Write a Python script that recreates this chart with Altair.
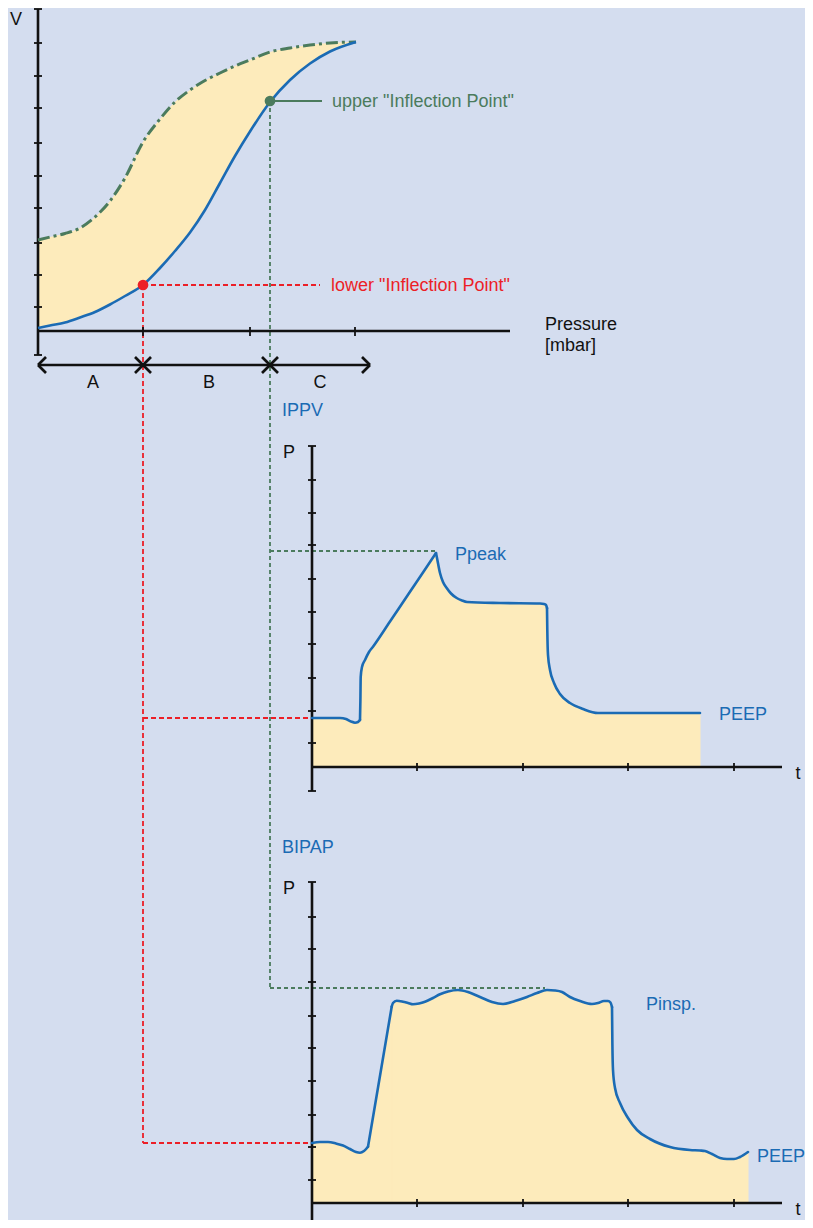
import altair as alt
import pandas as pd

BG = "#d4ddef"
FILL = "#fdebbb"
BLUE = "#1b6bb4"
GREEN = "#4b7b5d"
RED = "#ec1f27"
BLACK = "#111111"
FONT = "Liberation Sans"
FS = 18

# ---------------- data (diagram units, y grows downward) ----------------
# top panel: pressure-volume loop
pv_x = [38, 50, 65, 80, 95, 110, 125, 143, 160, 175, 190, 205, 220, 235, 250, 270, 290, 310, 330, 356]
pv_lower = [328, 325.5, 322.5, 317.5, 312, 304.5, 296, 285, 268, 251, 232.5, 210, 183, 156, 131.5, 102, 80, 63.5, 51.5, 42]
pv_upper = [240, 237, 233.5, 228, 217, 201, 178, 142, 119, 102, 90, 80.5, 73, 66, 60, 52, 48, 45, 43, 42]
pv_vticks = [43, 76, 108, 143, 176, 208, 243, 275, 307]
pv_hticks = [143, 250, 355]
inflection_x = [143, 270]
inflection_y = [285, 101]

# IPPV pressure curve (pieces split at sharp corners)
ippv_t = [312, 325, 340, 346, 351, 355, 358, 360,
          360, 360.4, 360.7, 362, 365, 369, 373, 390, 410, 425, 436,
          436, 437, 440, 443, 446.7, 451, 456.7, 462, 467, 500, 540, 544, 546, 547,
          547, 547.3, 548, 550, 554, 560, 570, 583, 598, 620, 700]
ippv_p = [718, 718, 718, 719, 721.5, 722.7, 722, 720,
          720, 700, 677, 667, 660, 652, 646.7, 621.5, 591.8, 569.6, 553,
          553, 558, 573, 582, 588, 593.5, 598, 600.5, 602, 603, 603.5, 604, 605, 608,
          608, 630, 655, 670, 683, 694, 703, 709, 713, 713, 713]
ippv_piece = [0] * 8 + [1] * 11 + [2] * 14 + [3] * 11
ippv_pticks = [480, 513, 545, 579, 612, 644, 678, 711, 743]

# BIPAP pressure curve (pieces split at sharp corners)
bipap_t = [312, 320, 328, 336, 343, 350, 356, 360, 364, 368,
           368, 391.7,
           391.7, 393, 396.7, 403, 408, 413, 419, 425, 433, 440, 448, 458, 468, 480, 492, 503, 515,
           527, 537, 547, 555, 562, 570, 580, 592, 598, 604, 608, 610.5, 612,
           612, 612.4, 613, 615, 620, 628, 637, 650, 670, 690, 700, 705, 712, 720, 727, 734, 740, 748]
bipap_p = [1143, 1142, 1142, 1143.5, 1145.5, 1149, 1152, 1152.7, 1151, 1146.7,
           1146.7, 1006.7,
           1006.7, 1003, 1000.7, 1001.7, 1003, 1004.3, 1003.5, 1001.7, 998, 994.3, 991.5, 990, 992,
           997, 1002, 1004, 1001, 997, 993, 990, 990.5, 992, 997, 1001, 1004, 1003, 1001, 1001,
           1002.5, 1007,
           1007, 1045, 1070, 1088, 1103, 1118, 1130, 1139, 1147, 1150, 1150.5, 1151, 1154, 1158,
           1159, 1159, 1157, 1152]
bipap_piece = [0] * 10 + [1] * 2 + [2] * 30 + [3] * 18
bipap_pticks = [917, 949, 982, 1016, 1048, 1081, 1115, 1147, 1180]
t_ticks = [417, 523, 628, 734]

# ---------------- scales ----------------
XS = alt.Scale(domain=[8, 805], nice=False, zero=False, padding=0)
YS = alt.Scale(domain=[8, 1220], nice=False, zero=False, reverse=True, padding=0)


def X(f="x"):
    return alt.X(f"{f}:Q", scale=XS, axis=None)


def Y(f="y"):
    return alt.Y(f"{f}:Q", scale=YS, axis=None)


def segs(rows):
    return pd.DataFrame(rows, columns=["x", "y", "x2", "y2"])


def rules(df, color, width, dash=None):
    kw = dict(color=color, strokeWidth=width, strokeCap="butt")
    if dash:
        kw["strokeDash"] = dash
    return alt.Chart(df).mark_rule(**kw).encode(
        x=X(), y=Y(), x2=alt.X2("x2:Q"), y2=alt.Y2("y2:Q"))


# ---------------- fills ----------------
pv_df = pd.DataFrame({"x": pv_x, "lo": pv_lower, "up": pv_upper})
pv_fill = alt.Chart(pv_df).mark_area(color=FILL, interpolate="monotone").encode(
    x=X(), y=Y("up"), y2=alt.Y2("lo:Q"))

ippv_df = pd.DataFrame({"x": ippv_t, "y": ippv_p, "piece": ippv_piece, "base": [767] * len(ippv_t)})
ippv_fill = alt.Chart(ippv_df).mark_area(color=FILL, stroke=FILL, strokeWidth=1,
                                         interpolate="monotone").encode(
    x=X(), y=Y(), y2=alt.Y2("base:Q"), detail="piece:N")

bipap_df = pd.DataFrame({"x": bipap_t, "y": bipap_p, "piece": bipap_piece, "base": [1203] * len(bipap_t)})
bipap_fill = alt.Chart(bipap_df).mark_area(color=FILL, stroke=FILL, strokeWidth=1,
                                           interpolate="monotone").encode(
    x=X(), y=Y(), y2=alt.Y2("base:Q"), detail="piece:N")

# ---------------- guide lines ----------------
lx, ux = inflection_x
ly, uy = inflection_y
red_lines = segs([
    (lx, ly, 320, ly),
    (lx, ly, lx, bipap_p[0]),
    (lx, ippv_p[0], 312, ippv_p[0]),
    (lx, bipap_p[0], 312, bipap_p[0]),
])
green_lines = segs([
    (ux, uy, ux, min(bipap_p) - 2),
    (ux, min(ippv_p) - 2, 435, min(ippv_p) - 2),
    (ux, min(bipap_p) - 2, 545, min(bipap_p) - 2),
])
green_solid = segs([(ux, uy, 322, uy)])

# ---------------- axes ----------------
axis_rows = [
    (38, 9, 38, 355), (38, 331, 510, 331),
    (38, 365, 370, 365),
    (38, 365, 46, 357), (38, 365, 46, 373), (370, 365, 362, 357), (370, 365, 362, 373),
    (312, 446, 312, 791), (312, 767, 782, 767),
    (312, 882, 312, 1227), (312, 1203, 782, 1203),
]
for cx in inflection_x:
    axis_rows += [(cx - 8, 357, cx + 8, 373), (cx - 8, 373, cx + 8, 357)]
axis_df = segs(axis_rows)

tick_rows = [(34, 9, 42, 9), (34, 355, 42, 355),
             (308, 446, 316, 446), (308, 791, 316, 791),
             (308, 882, 316, 882), (308, 1227, 316, 1227)]
tick_rows += [(34, v, 42, v) for v in pv_vticks]
tick_rows += [(h, 327, h, 336) for h in pv_hticks]
tick_rows += [(308, v, 316, v) for v in ippv_pticks + bipap_pticks]
tick_rows += [(t, 763, t, 771) for t in t_ticks]
tick_rows += [(t, 1199, t, 1207) for t in t_ticks]
tick_df = segs(tick_rows)

# ---------------- curves ----------------
pv_lower_line = alt.Chart(pv_df).mark_line(color=BLUE, strokeWidth=2.6, interpolate="monotone").encode(
    x=X(), y=Y("lo"))
pv_upper_line = alt.Chart(pv_df).mark_line(color=GREEN, strokeWidth=3, interpolate="monotone",
                                           strokeDash=[12, 4, 3, 4]).encode(x=X(), y=Y("up"))
ippv_line = alt.Chart(ippv_df).mark_line(color=BLUE, strokeWidth=2.6, interpolate="monotone",
                                         strokeJoin="round", strokeCap="round").encode(
    x=X(), y=Y(), detail="piece:N")
bipap_line = alt.Chart(bipap_df).mark_line(color=BLUE, strokeWidth=2.6, interpolate="monotone",
                                           strokeJoin="round", strokeCap="round").encode(
    x=X(), y=Y(), detail="piece:N")

pts_df = pd.DataFrame({"x": inflection_x, "y": inflection_y, "c": [RED, GREEN]})
pts = alt.Chart(pts_df).mark_circle(size=115, opacity=1).encode(
    x=X(), y=Y(), color=alt.Color("c:N", scale=None))

# ---------------- text ----------------
left_text = pd.DataFrame([
    ("upper \"Inflection Point\"", 332, 102, GREEN),
    ("lower \"Inflection Point\"", 331, 286, RED),
    ("Pressure", 545, 325, BLACK),
    ("[mbar]", 545, 346, BLACK),
    ("IPPV", 282, 411, BLUE),
    ("Ppeak", 455, 555, BLUE),
    ("PEEP", 719, 715, BLUE),
    ("BIPAP", 282, 848, BLUE),
    ("Pinsp.", 646, 1005, BLUE),
    ("PEEP", 757, 1157, BLUE),
], columns=["t", "x", "y", "c"])
center_text = pd.DataFrame([
    ("V", 16, 20, BLACK),
    ("A", 93, 383, BLACK),
    ("B", 209, 383, BLACK),
    ("C", 320, 383, BLACK),
    ("P", 289, 453, BLACK),
    ("t", 798, 774, BLACK),
    ("P", 289, 889, BLACK),
    ("t", 798, 1210, BLACK),
], columns=["t", "x", "y", "c"])

txt_l = alt.Chart(left_text).mark_text(align="left", baseline="middle", font=FONT, fontSize=FS).encode(
    x=X(), y=Y(), text="t:N", color=alt.Color("c:N", scale=None))
txt_c = alt.Chart(center_text).mark_text(align="center", baseline="middle", font=FONT, fontSize=FS).encode(
    x=X(), y=Y(), text="t:N", color=alt.Color("c:N", scale=None))

chart = alt.layer(
    pv_fill, ippv_fill, bipap_fill,
    rules(red_lines, RED, 1.8, [5, 3]),
    rules(green_lines, GREEN, 1.8, [4, 3]),
    rules(green_solid, GREEN, 2),
    rules(axis_df, BLACK, 2.6),
    rules(tick_df, BLACK, 1.8),
    pv_upper_line, pv_lower_line, ippv_line, bipap_line,
    pts, txt_l, txt_c,
).properties(
    width=797, height=1212, padding=0, background=BG,
    autosize=alt.AutoSizeParams(type="none"),
).configure_view(stroke="transparent")

chart.save("out.html", embed_options={"renderer": "svg", "actions": False})
